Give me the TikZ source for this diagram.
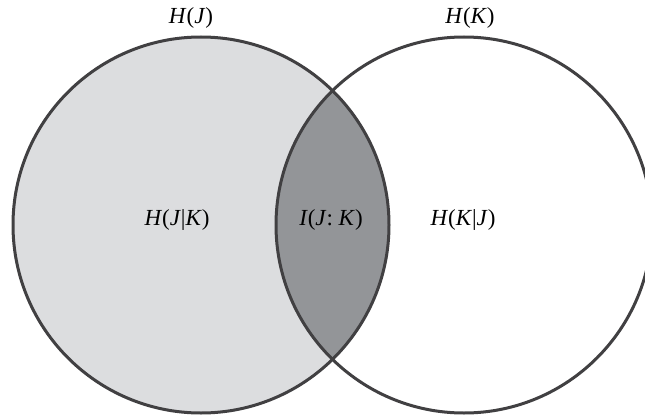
\documentclass[tikz,border=0pt]{standalone}
\usepackage{fontspec}
\setmainfont{Liberation Serif}
\definecolor{setfill}{HTML}{DCDDDF}
\definecolor{overlapfill}{HTML}{939598}
\definecolor{rim}{HTML}{414042}
\begin{document}
\begin{tikzpicture}[x=1pt,y=-1pt,
  rimline/.style={draw=rim,line width=3pt},
  lbl/.style={font=\fontsize{23}{26}\selectfont,inner sep=0pt}]
\useasboundingbox (0,0) rectangle (645,417);
\coordinate (cJ) at (201,225);
\coordinate (cK) at (464,225);
\def\R{188}
% set J shaded
\fill[setfill] (cJ) circle[radius=\R];
% overlap of J and K
\begin{scope}
  \clip (cJ) circle[radius=\R];
  \fill[overlapfill] (cK) circle[radius=\R];
\end{scope}
% outlines
\path[rimline] (cJ) circle[radius=\R];
\path[rimline] (cK) circle[radius=\R];
% labels
\node[lbl] (hJ) at (191,18) {\textit{H}(\textit{J})};
\node[lbl] (hK) at (470,18) {\textit{H}(\textit{K})};
\node[lbl] (hJK) at (177,220) {\textit{H}(\textit{J}|\textit{K})};
\node[lbl] (iJK) at (331,220) {\textit{I}(\textit{J}: \textit{K})};
\node[lbl] (hKJ) at (463,220) {\textit{H}(\textit{K}|\textit{J})};
\end{tikzpicture}
\end{document}
